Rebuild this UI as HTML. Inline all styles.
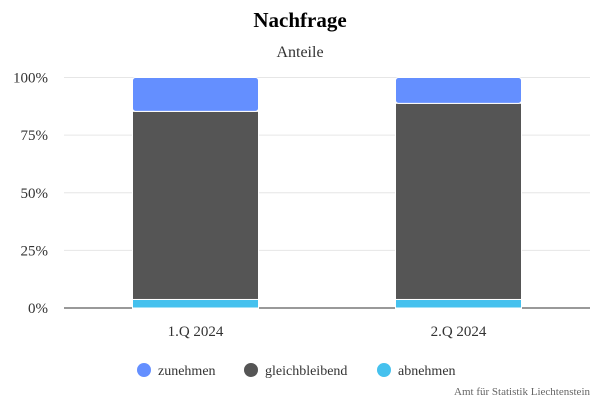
<!DOCTYPE html>
<html><head><meta charset="utf-8"><style>
body{margin:0;background:#fff;font-family:"Liberation Serif",serif}
svg text{font-family:"Liberation Serif",serif}
</style></head><body>
<svg id="c" width="600" height="400">
<text x="300" y="27" text-anchor="middle" font-size="21" font-weight="bold" fill="#000">Nachfrage</text>
<text x="300" y="57" text-anchor="middle" font-size="16" fill="#333">Anteile</text>
<g id="grid"></g><g id="bars"></g><g id="xl"></g>
<g>
<g><circle cx="144" cy="370" r="7" fill="#648fff"/><text x="158" y="375" font-size="14" fill="#333">zunehmen</text></g>
<g><circle cx="251" cy="370" r="7" fill="#555"/><text x="265" y="375" font-size="14" fill="#333">gleichbleibend</text></g>
<g><circle cx="384" cy="370" r="7" fill="#45c1ee"/><text x="398" y="375" font-size="14" fill="#333">abnehmen</text></g>
</g>
<text x="590" y="395" text-anchor="end" font-size="11" fill="#666">Amt für Statistik Liechtenstein</text>
</svg>
<script>
const categories=["1.Q 2024","2.Q 2024"];
const abnehmen=[3.7,3.7];
const gleichbleibend=[81.6,85.1];
const zunehmen=[14.7,11.2];
const yTicks=[0,25,50,75,100];
const NS="http://www.w3.org/2000/svg";
const x0=64,x1=590,yB=308,yT=77.5;
const y=v=>yB-(v/100)*(yB-yT);
const band=(x1-x0)/categories.length;
const bw=126;
function mk(t,a,p){const e=document.createElementNS(NS,t);for(const k in a)e.setAttribute(k,a[k]);p.appendChild(e);return e;}
const g=document.getElementById('grid');
yTicks.forEach(v=>{
 const l=mk('line',{x1:x0,x2:x1,y1:y(v),y2:y(v),stroke:v===0?'#333':'#e6e6e6','stroke-width':1},g);
 
 
 const t=mk('text',{x:48,y:y(v)+5,'text-anchor':'end','font-size':15,fill:'#333'},g);
 t.textContent=v+'%';
 
 
});
const b=document.getElementById('bars'),xl=document.getElementById('xl');
const series=[["abnehmen",abnehmen,"#45c1ee"],["gleichbleibend",gleichbleibend,"#555"],["zunehmen",zunehmen,"#648fff"]];
categories.forEach((c,i)=>{
 const cx=x0+band*(i+0.5);let acc=0;
 series.forEach(([n,arr,col],si)=>{
  const v=arr[i];
  const r=mk('rect',{x:cx-bw/2,y:y(acc+v),width:bw,height:y(acc)-y(acc+v),fill:col,stroke:'#fff','stroke-width':1,rx:si===2?3:0},b);
  
  
  acc+=v;
 });
 const t=mk('text',{x:cx,y:336,'text-anchor':'middle','font-size':15,fill:'#333'},xl);
 t.textContent=c;
 
 
});
</script>
</body></html>
